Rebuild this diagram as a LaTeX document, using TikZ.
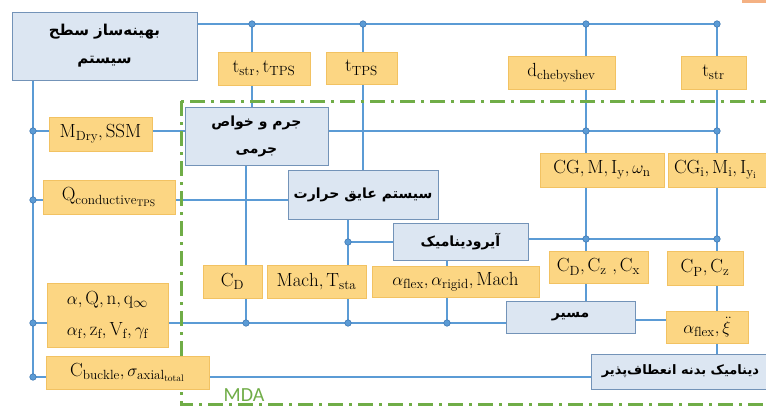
\documentclass[tikz,border=0pt]{standalone}
\usepackage{fontspec}
\newfontfamily\fa[Script=Arabic]{DejaVu Sans}
\newfontfamily\calfont{Carlito}
\TeXXeTstate=1
\usetikzlibrary{calc}
\definecolor{lineblue}{HTML}{5B9BD5}
\definecolor{dotedge}{HTML}{3F78B4}
\definecolor{boxfill}{HTML}{DCE6F2}
\definecolor{boxedge}{HTML}{7393B8}
\definecolor{varfill}{HTML}{FCD683}
\definecolor{varedge}{HTML}{F2C262}
\definecolor{mdagreen}{HTML}{70AD47}
\definecolor{salmon}{HTML}{F4B183}
\tikzset{
  busline/.style={draw=lineblue, line width=2.8pt},
  procbox/.style={draw=boxedge, fill=boxfill, line width=0.8pt, rectangle, inner sep=0pt, align=center,
    font=\fa\bfseries\fontsize{14}{27}\selectfont},
  varbox/.style={draw=varedge, fill=varfill, line width=0.6pt, rectangle, inner sep=0pt, align=center,
    font=\fontsize{19}{22}\selectfont},
  jdot/.style={circle, fill=lineblue, draw=dotedge, line width=0.6pt, inner sep=0pt, minimum size=6.5pt},
  mdaframe/.style={draw=mdagreen, line width=3pt, dash pattern=on 15pt off 6pt on 3pt off 6pt}
}
\begin{document}
\begin{tikzpicture}[x=1pt,y=-1pt]
\useasboundingbox (0,0) rectangle (766,407);
\clip (0,0) rectangle (766,407);
\fill[white] (0,0) rectangle (766,407);
\fill[salmon] (742,0) rectangle (766,3);

% junction coordinates
\coordinate (T1) at (252,24);
\coordinate (T2) at (363,24);
\coordinate (T3) at (586,24);
\coordinate (T4) at (717,24);
\coordinate (L1) at (33,131);
\coordinate (L2) at (33,200);
\coordinate (L3) at (33,323);
\coordinate (L4) at (33,377);
\coordinate (R1) at (586,131);
\coordinate (R2) at (717,131);
\coordinate (A1) at (586,239);
\coordinate (A2) at (717,239);
\coordinate (H1) at (348,242);
\coordinate (B1) at (246,323);
\coordinate (B2) at (348,323);
\coordinate (B3) at (447,323);
\coordinate (M1) at (650,320);

% process boxes (placed first for names; redrawn later on top)
\path
 node[procbox, minimum width=185pt, minimum height=68pt] (opt) at (104.5,46) {}
 node[procbox, minimum width=143pt, minimum height=58pt] (jirm) at (256.5,136) {}
 node[procbox, minimum width=150pt, minimum height=49pt] (thermal) at (363,194.5) {}
 node[procbox, minimum width=135pt, minimum height=37pt] (aero) at (460.5,241.5) {}
 node[procbox, minimum width=129pt, minimum height=32pt] (masir) at (570.5,317) {}
 node[procbox, minimum width=179pt, minimum height=35pt] (dyn) at (680.5,371.5) {}
 node[varbox, minimum width=99pt, minimum height=33pt] (mach) at (316.5,281.5) {}
 node[varbox, minimum width=82pt, minimum height=32pt] (aflexxi) at (707,327) {};

% connectors
\draw[busline] (opt.east |- T1) -- (T4) -- (T4 |- dyn.north);
\draw[busline] (T1) -- (T1 |- jirm.north);
\draw[busline] (T2) -- (T2 |- thermal.north);
\draw[busline] (T3) -- (T3 |- masir.north);
\draw[busline] (opt.south -| L1) -- (L4);
\draw[busline] (L1) -- (L1 -| jirm.west);
\draw[busline] (jirm.east |- R1) -- (R2);
\draw[busline] (L2) -- (L2 -| thermal.west);
\draw[busline] (thermal.south -| H1) -- (B2);
\draw[busline] (H1) -- (H1 -| aero.west);
\draw[busline] (aero.east |- A1) -- (A2);
\draw[busline] (L3) -- (L3 -| masir.west);
\draw[busline] (jirm.south -| B1) -- (B1);
\draw[busline] (aero.south -| B3) -- (B3);
\draw[busline] (masir.east |- M1) -- (M1 -| aflexxi.west);
\draw[busline] (L4) -- (L4 -| dyn.west);

% MDA frame
\draw[mdaframe] (181,101) rectangle (790,404);
\node[text=mdagreen, font=\calfont\fontsize{20}{20}\selectfont, inner sep=0pt] (mdalabel) at (244,395) {MDA};

% junction dots
\foreach \p in {T1,T2,T3,T4,L1,L2,L3,L4,R1,R2,A1,A2,H1,B1,B2,B3}
  \node[jdot] at (\p) {};

% process boxes with text
\node[procbox, minimum width=185pt, minimum height=68pt, font=\fa\bfseries\fontsize{15}{28}\selectfont] at (opt.center)
  {\beginR بهینه^^^^200cساز سطح\endR\\\beginR سیستم\endR};
\node[procbox, minimum width=143pt, minimum height=58pt] at (jirm.center)
  {\beginR جرم و خواص\endR\\\beginR جرمی\endR};
\node[procbox, minimum width=150pt, minimum height=49pt] at (thermal.center)
  {\beginR سیستم عایق حرارت\endR};
\node[procbox, minimum width=135pt, minimum height=37pt] at (aero.center)
  {\beginR آیرودینامیک\endR};
\node[procbox, minimum width=129pt, minimum height=32pt] at (masir.center)
  {\beginR مسیر\endR};
\node[procbox, minimum width=179pt, minimum height=35pt, font=\fa\bfseries\fontsize{13}{26}\selectfont] at (dyn.center)
  {\beginR دینامیک بدنه انعطاف^^^^200cپذیر\endR};

% variable boxes
\node[varbox, minimum width=92pt, minimum height=33pt] (tstrtps) at (264,68.5)
  {$\mathrm{t}_{\mathrm{str}},\mathrm{t}_{\mathrm{TPS}}$};
\node[varbox, minimum width=71pt, minimum height=32pt] (ttps) at (361.5,68)
  {$\mathrm{t}_{\mathrm{TPS}}$};
\node[varbox, minimum width=107pt, minimum height=33pt] (dcheb) at (561.5,72.5)
  {$\mathrm{d}_{\mathrm{chebyshev}}$};
\node[varbox, minimum width=65pt, minimum height=33pt] (tstr) at (713.5,72.5)
  {$\mathrm{t}_{\mathrm{str}}$};
\node[varbox, minimum width=103pt, minimum height=34pt] (mdry) at (100.5,134)
  {$\mathrm{M}_{\mathrm{Dry}},\mathrm{SSM}$};
\node[varbox, minimum width=132pt, minimum height=34pt] (qcond) at (109,197)
  {$\mathrm{Q}_{\mathrm{conductive}_{\mathrm{TPS}}}$};
\node[varbox, minimum width=124pt, minimum height=34pt] (cg) at (602,170)
  {$\mathrm{CG},\mathrm{M},\mathrm{I}_{\mathrm{y}},\omega_{\mathrm{n}}$};
\node[varbox, minimum width=122pt, minimum height=34pt, text width=110pt, align=left] (cgi) at (729,170)
  {$\mathrm{CG}_{\mathrm{i}},\mathrm{M}_{\mathrm{i}},\mathrm{I}_{\mathrm{y}_{\mathrm{i}}}$};
\node[varbox, minimum width=59pt, minimum height=33pt] (cd) at (232.5,281.5)
  {$\mathrm{C}_{\mathrm{D}}$};
\node[varbox, minimum width=99pt, minimum height=33pt] at (mach.center)
  {$\mathrm{Mach},\mathrm{T}_{\mathrm{sta}}$};
\node[varbox, minimum width=167pt, minimum height=31pt] (aflex) at (455.5,281.5)
  {$\alpha_{\mathrm{flex}},\alpha_{\mathrm{rigid}},\mathrm{Mach}$};
\node[varbox, minimum width=99pt, minimum height=32pt] (cdzx) at (598.5,267)
  {$\mathrm{C}_{\mathrm{D}},\mathrm{C}_{\mathrm{z}}\ ,\mathrm{C}_{\mathrm{x}}$};
\node[varbox, minimum width=76pt, minimum height=34pt] (cpz) at (705,268)
  {$\mathrm{C}_{\mathrm{P}},\mathrm{C}_{\mathrm{z}}$};
\node[varbox, minimum width=121pt, minimum height=64pt, font=\fontsize{19}{31}\selectfont] (alphaq) at (107.5,315)
  {$\alpha,\mathrm{Q},\mathrm{n},\mathrm{q}_{\infty}$\\$\alpha_{\mathrm{f}},\mathrm{z}_{\mathrm{f}},\mathrm{V}_{\mathrm{f}},\gamma_{\mathrm{f}}$};
\node[varbox, minimum width=82pt, minimum height=32pt] at (aflexxi.center)
  {$\alpha_{\mathrm{flex}},\ddot{\xi}$};
\node[varbox, minimum width=163pt, minimum height=33pt] (cbuckle) at (127.5,372.5)
  {$\mathrm{C}_{\mathrm{buckle}},\sigma_{\mathrm{axial}_{\mathrm{total}}}$};
\end{tikzpicture}
\end{document}
